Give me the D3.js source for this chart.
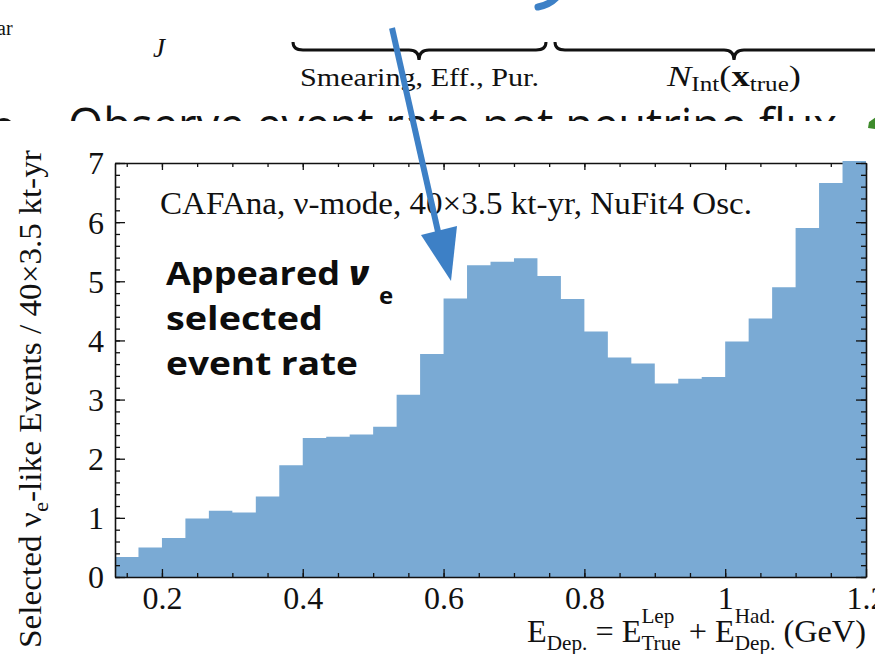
<!DOCTYPE html>
<html>
<head>
<meta charset="utf-8">
<script src="https://cdn.jsdelivr.net/npm/d3@7"></script>
<style>
  html, body { margin: 0; padding: 0; background: #fff; }
  svg { display: block; }
  .serif { font-family: "Liberation Serif", "Times New Roman", serif; fill: #111; }
</style>
</head>
<body>
<svg id="chart" width="875" height="654"></svg>
<script>
// Selected nu_e-like events per reconstructed-energy bin, 40x3.5 kt-yr exposure
const binFirstEdge = 4 / 30;   // GeV, lower edge of the first bin
const binWidth = 1 / 30;       // GeV
const events = [
  0.34, 0.50, 0.66, 0.99, 1.12, 1.09, 1.36, 1.89,
  2.35, 2.37, 2.41, 2.54, 3.08, 3.77, 4.71, 5.27,
  5.33, 5.39, 5.09, 4.70, 4.15, 3.71, 3.61, 3.27,
  3.35, 3.38, 3.98, 4.37, 4.90, 5.90, 6.66, 7.40
];

const xDomain = [4 / 30, 36 / 30];
const yDomain = [0, 7];
const xTickValues = [0.2, 0.4, 0.6, 0.8, 1.0, 1.2];
const xTickLabels = ["0.2", "0.4", "0.6", "0.8", "1", "1.2"];
const xMinorTicks = [0.15, 0.2, 0.25, 0.3, 0.35, 0.4, 0.45, 0.5, 0.55, 0.6, 0.65, 0.7,
                     0.75, 0.8, 0.85, 0.9, 0.95, 1.0, 1.05, 1.1, 1.15];
const yTickValues = [0, 1, 2, 3, 4, 5, 6, 7];
const yTickLabels = ["0", "1", "2", "3", "4", "5", "6", "7"];
const yMinorTicks = d3.range(0, 7.001, 0.2);

const headerLabel = "CAFAna, \u03bd-mode, 40\u00d73.5 kt-yr, NuFit4 Osc.";
const calloutLines = ["Appeared", "selected", "event rate"];
const bulletText = "Observe event rate not neutrino flux";
const braceLabelLeft = "Smearing, Eff., Pur.";

const W = 875, H = 654;
const plot = { left: 115, right: 866, top: 163, bottom: 577 };
const barColor = "#7aaad4";
const arrowBlue = "#3d80c6";
const NBSP = "\u00a0";

const svg = d3.select("#chart");
svg.append("rect").attr("width", W).attr("height", H).attr("fill", "#fff");

// lays out a run of text pieces (with optional stacked super/subscripts);
// an optional fitWidth squeezes/stretches the run horizontally to that width
function drawMath(parent, pieces, anchorX, baseY, anchor, fitWidth) {
  const outer = parent.append("g").attr("class", "serif");
  const g = outer.append("g");
  let cx = 0;
  pieces.forEach(p => {
    if (p.sup !== undefined || p.sub !== undefined) {
      let w = 0;
      if (p.sup) {
        const t = g.append("text").attr("x", cx).attr("y", baseY - p.supRise)
          .style("font-size", p.size + "px").text(p.sup);
        w = Math.max(w, t.node().getComputedTextLength());
      }
      if (p.sub) {
        const t = g.append("text").attr("x", cx).attr("y", baseY + p.subDrop)
          .style("font-size", p.size + "px").text(p.sub);
        w = Math.max(w, t.node().getComputedTextLength());
      }
      cx += w + (p.gap || 0);
    } else {
      const t = g.append("text").attr("x", cx).attr("y", baseY + (p.dy || 0))
        .style("font-size", p.size + "px")
        .style("font-style", p.italic ? "italic" : null)
        .style("font-weight", p.bold ? "bold" : null)
        .text(p.t);
      cx += t.node().getComputedTextLength() + (p.gap || 0);
    }
  });
  const k = fitWidth ? fitWidth / cx : 1;
  const total = cx * k;
  const shift = anchor === "end" ? anchorX - total : anchor === "middle" ? anchorX - total / 2 : anchorX;
  outer.attr("transform", `translate(${shift},0)`);
  g.attr("transform", `scale(${k},1)`);
  return outer;
}

// ---- slide content behind the plot ----
const slide = svg.append("g");
slide.append("text").attr("class", "serif").attr("x", -3).attr("y", 35)
  .style("font-size", "20px").text("ar");
slide.append("text").attr("class", "serif").attr("x", 153).attr("y", 57)
  .style("font-size", "27px").style("font-style", "italic").text("J");

function brace(x1, xm, x2) {
  const yEnd = 42, yLine = 50, yTip = 60, r = 10;
  return `M${x1},${yEnd} Q${x1},${yLine} ${x1 + r},${yLine} L${xm - r},${yLine} ` +
         `Q${xm},${yLine} ${xm},${yTip} Q${xm},${yLine} ${xm + r},${yLine} ` +
         `L${x2 - r},${yLine} Q${x2},${yLine} ${x2},${yEnd}`;
}
slide.append("path").attr("d", brace(293, 419, 546))
  .attr("fill", "none").attr("stroke", "#111").attr("stroke-width", 3);
slide.append("path").attr("d", brace(555, 734, 915))
  .attr("fill", "none").attr("stroke", "#111").attr("stroke-width", 3);

slide.append("text").attr("class", "serif").attr("x", 300).attr("y", 86)
  .style("font-size", "25px").attr("textLength", 239).attr("lengthAdjust", "spacingAndGlyphs")
  .text(braceLabelLeft);

drawMath(slide, [
  { t: "N", size: 29, italic: true },
  { t: "Int", size: 20, dy: 5 },
  { t: "(", size: 29 },
  { t: "x", size: 29, bold: true },
  { t: "true", size: 20, dy: 5 },
  { t: ")", size: 29 }
], 667, 86, "start", 134);

slide.append("text").attr("x", 68).attr("y", 142)
  .style("font-family", "'Open Sans', sans-serif").style("font-size", "48px").attr("fill", "#111")
  .attr("textLength", 769).attr("lengthAdjust", "spacingAndGlyphs").text(bulletText);
slide.append("circle").attr("cx", 4).attr("cy", 128).attr("r", 10).attr("fill", "#111");

// blue stroke entering from the top
slide.append("path").attr("d", "M562,-10 Q554,4 538,7")
  .attr("fill", "none").attr("stroke", arrowBlue).attr("stroke-width", 7).attr("stroke-linecap", "round");

// ---- plot panel (white background covers the slide below) ----
svg.append("rect").attr("x", 0).attr("y", 121).attr("width", W).attr("height", H - 121).attr("fill", "#fff");

const x = d3.scaleLinear().domain(xDomain).range([plot.left, plot.right]);
const y = d3.scaleLinear().domain(yDomain).range([plot.bottom, plot.top]);

svg.append("defs").append("clipPath").attr("id", "plotClip")
  .append("rect").attr("x", plot.left).attr("y", plot.top - 2)
  .attr("width", plot.right - plot.left).attr("height", plot.bottom - plot.top + 2);

const axisColor = "#111";
const axisWidth = 1.6;

// top axis (drawn beneath the histogram)
const topAxisG = svg.append("g").attr("transform", `translate(0,${plot.top})`);
topAxisG.call(d3.axisTop(x).tickValues(xMinorTicks).tickSizeInner(-4).tickSizeOuter(0).tickFormat(""));
topAxisG.call(g => g.selectAll(".tick line").attr("stroke", axisColor).attr("stroke-width", 1.3));
topAxisG.select(".domain").attr("stroke", axisColor).attr("stroke-width", axisWidth);
const topMajor = svg.append("g").attr("transform", `translate(0,${plot.top})`)
  .call(d3.axisTop(x).tickValues(xTickValues).tickSizeInner(-7).tickSizeOuter(0).tickFormat(""));
topMajor.select(".domain").remove();
topMajor.selectAll(".tick line").attr("stroke", axisColor).attr("stroke-width", 1.3);

// histogram as a filled step area
const steps = events.map((v, i) => ({ e: binFirstEdge + i * binWidth, v }));
steps.push({ e: binFirstEdge + events.length * binWidth, v: events[events.length - 1] });
const area = d3.area()
  .x(d => x(d.e))
  .y0(y(0))
  .y1(d => y(d.v))
  .curve(d3.curveStepAfter);
svg.append("path").datum(steps).attr("d", area)
  .attr("fill", barColor).attr("clip-path", "url(#plotClip)");

// bottom axis
const bottomMinor = svg.append("g").attr("transform", `translate(0,${plot.bottom})`)
  .call(d3.axisBottom(x).tickValues(xMinorTicks).tickSizeInner(-4).tickSizeOuter(0).tickFormat(""));
bottomMinor.select(".domain").attr("stroke", axisColor).attr("stroke-width", axisWidth);
bottomMinor.selectAll(".tick line").attr("stroke", axisColor).attr("stroke-width", 1.3);
const bottomMajor = svg.append("g").attr("transform", `translate(0,${plot.bottom})`)
  .call(d3.axisBottom(x).tickValues(xTickValues).tickSizeInner(-8).tickSizeOuter(0).tickPadding(32)
    .tickFormat((d, i) => xTickLabels[i]));
bottomMajor.select(".domain").remove();
bottomMajor.selectAll(".tick line").attr("stroke", axisColor).attr("stroke-width", 1.3);
bottomMajor.selectAll(".tick text").attr("class", "serif").attr("dy", 0)
  .style("font-size", "32px").attr("fill", "#111");

// left axis
const leftMinor = svg.append("g").attr("transform", `translate(${plot.left},0)`)
  .call(d3.axisLeft(y).tickValues(yMinorTicks).tickSizeInner(-5).tickSizeOuter(0).tickFormat(""));
leftMinor.select(".domain").attr("stroke", axisColor).attr("stroke-width", axisWidth);
leftMinor.selectAll(".tick line").attr("stroke", axisColor).attr("stroke-width", 1.3);
const leftMajor = svg.append("g").attr("transform", `translate(${plot.left},0)`)
  .call(d3.axisLeft(y).tickValues(yTickValues).tickSizeInner(-10).tickSizeOuter(0).tickPadding(11)
    .tickFormat((d, i) => yTickLabels[i]));
leftMajor.select(".domain").remove();
leftMajor.selectAll(".tick line").attr("stroke", axisColor).attr("stroke-width", 1.3);
leftMajor.selectAll(".tick text").attr("class", "serif").attr("dy", "0.34em")
  .style("font-size", "32px").attr("fill", "#111");

// right axis
const rightMinor = svg.append("g").attr("transform", `translate(${plot.right},0)`)
  .call(d3.axisRight(y).tickValues(yMinorTicks).tickSizeInner(-5).tickSizeOuter(0).tickFormat(""));
rightMinor.select(".domain").attr("stroke", axisColor).attr("stroke-width", axisWidth);
rightMinor.selectAll(".tick line").attr("stroke", axisColor).attr("stroke-width", 1.3);
const rightMajor = svg.append("g").attr("transform", `translate(${plot.right},0)`)
  .call(d3.axisRight(y).tickValues(yTickValues).tickSizeInner(-10).tickSizeOuter(0).tickFormat(""));
rightMajor.select(".domain").remove();
rightMajor.selectAll(".tick line").attr("stroke", axisColor).attr("stroke-width", 1.3);

// x-axis title
drawMath(svg, [
  { t: "E", size: 32 },
  { t: "Dep.", size: 21, dy: 8 },
  { t: NBSP + "=" + NBSP + "E", size: 32 },
  { sup: "Lep", sub: "True", size: 21, supRise: 19, subDrop: 8 },
  { t: NBSP + "+" + NBSP + "E", size: 32 },
  { sup: "Had.", sub: "Dep.", size: 21, supRise: 19, subDrop: 8 },
  { t: NBSP + "(GeV)", size: 32 }
], 866, 642, "end", 339);

// y-axis title (rotated)
const yTitle = svg.append("g").attr("transform", "translate(41,0) rotate(-90)");
drawMath(yTitle, [
  { t: "Selected \u03bd", size: 32 },
  { t: "e", size: 22, dy: 7 },
  { t: "-like Events / 40\u00d73.5 kt-yr", size: 32 }
], -399, 0, "middle", 498);

// header inside the frame
svg.append("text").attr("class", "serif").attr("x", 160).attr("y", 214)
  .style("font-size", "31px").attr("textLength", 592).attr("lengthAdjust", "spacingAndGlyphs")
  .text(headerLabel);

// bold callout
const callout = svg.append("g")
  .style("font-family", "'Open Sans', sans-serif").style("font-weight", 700).attr("fill", "#0d0d0d");
const calloutLengths = [174, 157, 192];
const calloutBase = [285, 330, 375];
calloutLines.forEach((s, i) => {
  callout.append("text").attr("x", 166).attr("y", calloutBase[i]).style("font-size", "33px")
    .attr("textLength", calloutLengths[i]).attr("lengthAdjust", "spacingAndGlyphs").text(s);
});
callout.append("text").attr("x", 349).attr("y", 285).style("font-size", "34px")
  .style("font-style", "italic").style("font-weight", 800).text("\u03bd");
callout.append("text").attr("x", 379).attr("y", 304).style("font-size", "24px").text("e");

// arrow pointing at the appearance peak
const arrow = svg.append("g");
arrow.append("line").attr("x1", 392).attr("y1", 28).attr("x2", 439).attr("y2", 236)
  .attr("stroke", arrowBlue).attr("stroke-width", 6);
arrow.append("path").attr("d", "M421,235 L457,226 L451,281 Z").attr("fill", arrowBlue);

// green stroke at the right edge
svg.append("path").attr("d", "M869,122 L876,117 L876,129 L868,128 Z").attr("fill", "#3e8b2c");
</script>
</body>
</html>
